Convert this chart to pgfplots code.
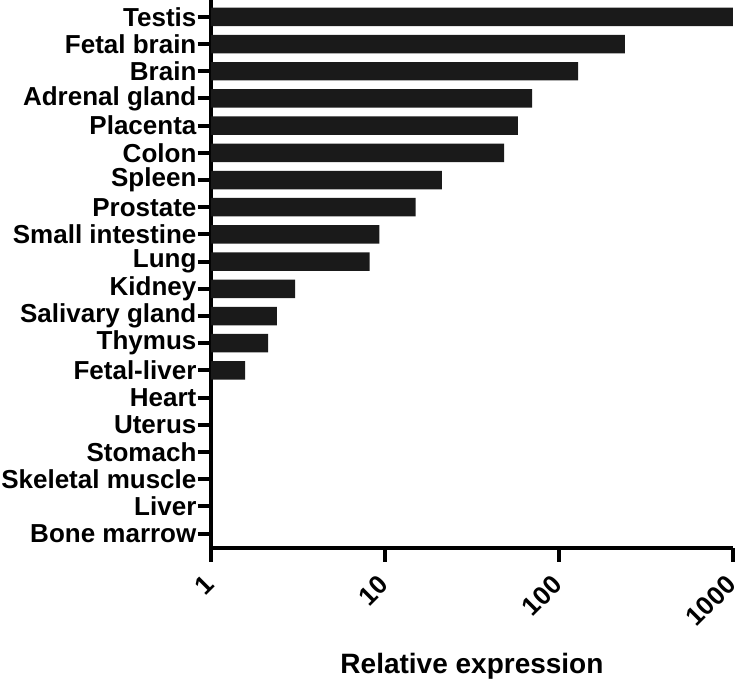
\documentclass[border=0pt]{standalone}
\usepackage{fontspec}
\setmainfont{Liberation Sans}
\usepackage{pgfplots}
\pgfplotsset{compat=1.18}
\definecolor{barfill}{HTML}{1A1A1A}
\begin{document}
\begin{tikzpicture}
\begin{axis}[
  name=ax,
  scale only axis,
  width=522bp, height=548bp,
  xmode=log,
  xmin=1, xmax=1000,
  ymin=-0.53, ymax=19.62,
  axis x line*=bottom,
  axis y line*=left,
  axis line style={line width=4bp, black, -},
  every tick/.style={line width=4bp, black},
  tick align=outside,
  major tick length=13.5bp,
  xminorticks=false,
  yminorticks=false,
  xtick={1,10,100,1000},
  xticklabels={1,10,100,1000},
  ytick={0,...,19},
  yticklabels={Bone marrow,Liver,Skeletal muscle,Stomach,Uterus,Heart,Fetal-liver,Thymus,Salivary gland,Kidney,Lung,Small intestine,Prostate,Spleen,Colon,Placenta,Adrenal gland,Brain,Fetal brain,Testis},
  /pgf/number format/assume math mode=true,
  ticklabel style={font=\bfseries\fontsize{26bp}{29bp}\selectfont},
  yticklabel style={inner sep=1bp},
  xticklabel style={xshift=-1bp, yshift=-18bp, rotate=45, anchor=east, inner sep=1bp},
  xlabel={Relative expression},
  every axis x label/.style={at={(axis description cs:0.5,0)}, anchor=base, yshift=-125bp, font=\bfseries\fontsize{28bp}{32bp}\selectfont},
  xbar, bar width=0.68, bar shift=0pt,
  clip=false,
]
\addplot[draw=none, fill=barfill] coordinates {
  (1000,19) (239,18) (129,17) (70,16) (58,15) (48.3,14) (21.2,13)
  (15.0,12) (9.27,11) (8.17,10) (3.04,9) (2.39,8) (2.13,7) (1.57,6)
  (1,5) (1,4) (1,3) (1,2) (1,1) (1,0)
};
\end{axis}
\pgfresetboundingbox
\path[use as bounding box] ([xshift=-211bp,yshift=548bp]ax.south west) rectangle ([xshift=525bp,yshift=-132bp]ax.south west);
\end{tikzpicture}
\end{document}
